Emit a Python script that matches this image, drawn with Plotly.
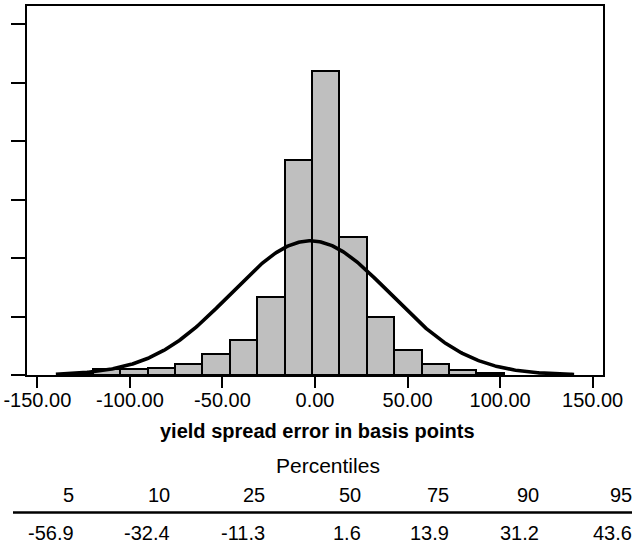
import numpy as np
import plotly.graph_objects as go

# ---------------- data ----------------
bin_centers = [-127.4, -112.6, -97.8, -83.0, -68.2, -53.4, -38.6, -23.8,
               -9.0, 5.8, 20.6, 35.4, 50.2, 65.0, 79.8, 94.6]
bin_width = 14.8
bin_counts = [2, 5, 5, 6, 9, 18, 30, 67, 184, 260, 118, 50, 21, 9, 4, 2]

curve_mean = -2.5
curve_sd = 43.0
curve_peak = 114.7          # height of the fitted normal curve at its mean
curve_from, curve_to = -140.0, 140.0

x_tickvals = [-150, -100, -50, 0, 50, 100, 150]
x_ticktext = ["-150.00", "-100.00", "-50.00", "0.00", "50.00", "100.00", "150.00"]
y_tickvals = [0, 50, 100, 150, 200, 250, 300]

percentile_levels = ["5", "10", "25", "50", "75", "90", "95"]
percentile_values = ["-56.9", "-32.4", "-11.3", "1.6", "13.9", "31.2", "43.6"]

x_title = "yield spread error in basis points"
table_title = "Percentiles"

# ---------------- geometry (pixels) ----------------
W, H = 632, 546
L, R, T, B = 27, 29, 6, 171
PW, PH = W - L - R, H - T - B
def px_x(p):  # page pixel -> paper x
    return (p - L) / PW
def px_y(p):  # page pixel -> paper y
    return (H - B - p) / PH

FONT = "Liberation Sans, Arial, Helvetica, sans-serif"

# fitted normal curve
cx = np.linspace(curve_from, curve_to, 400)
cy = curve_peak * np.exp(-0.5 * ((cx - curve_mean) / curve_sd) ** 2)

fig = go.Figure()
fig.add_trace(go.Bar(
    x=bin_centers, y=bin_counts, width=bin_width,
    marker=dict(color="#bfbfbf", line=dict(color="black", width=2)),
    showlegend=False, hoverinfo="skip",
))
fig.add_trace(go.Scatter(
    x=cx, y=cy, mode="lines", line=dict(color="black", width=3.6),
    showlegend=False, hoverinfo="skip",
))

col_right_px = [76, 172.3, 266.7, 362.7, 451.3, 541.3, 634]
annotations = []
for xr, lev, val in zip(col_right_px, percentile_levels, percentile_values):
    annotations.append(dict(x=px_x(xr), y=px_y(495), xref="paper", yref="paper",
                            text=lev, showarrow=False, xanchor="right", yanchor="middle",
                            font=dict(family=FONT, size=20, color="black")))
    annotations.append(dict(x=px_x(xr), y=px_y(532.7), xref="paper", yref="paper",
                            text=val, showarrow=False, xanchor="right", yanchor="middle",
                            font=dict(family=FONT, size=20, color="black")))
annotations.append(dict(x=px_x(328.2), y=px_y(465.8), xref="paper", yref="paper",
                        text=table_title, showarrow=False, xanchor="center", yanchor="middle",
                        font=dict(family=FONT, size=21, color="black")))
annotations.append(dict(x=px_x(317.3), y=px_y(431), xref="paper", yref="paper",
                        text="<b>" + x_title + "</b>", showarrow=False,
                        xanchor="center", yanchor="middle",
                        font=dict(family=FONT, size=20, color="black")))

shapes = [
    # bottom axis line extending left to the y tick ends
    dict(type="line", xref="paper", yref="paper", x0=px_x(13), x1=0, y0=0, y1=0,
         line=dict(color="black", width=2)),
    # table rule
    dict(type="line", xref="paper", yref="paper", x0=px_x(13), x1=px_x(640),
         y0=px_y(512.5), y1=px_y(512.5), line=dict(color="black", width=2.5)),
]

fig.update_layout(
    width=W, height=H,
    margin=dict(l=L, r=R, t=T, b=B, autoexpand=False),
    paper_bgcolor="white", plot_bgcolor="white",
    bargap=0,
    font=dict(family=FONT, color="black"),
    annotations=annotations, shapes=shapes,
    xaxis=dict(range=[-155.6, 155.6], tickvals=x_tickvals, ticktext=x_ticktext,
               ticks="outside", ticklen=11, tickwidth=2, tickcolor="black",
               ticklabelstandoff=-5,
               showline=True, linewidth=2, linecolor="black", mirror=True,
               showgrid=False, zeroline=False,
               tickfont=dict(family=FONT, size=20, color="black")),
    yaxis=dict(range=[0, 315.4], tickvals=y_tickvals, showticklabels=False,
               ticks="outside", ticklen=14, tickwidth=2, tickcolor="black",
               showline=True, linewidth=2, linecolor="black", mirror=True,
               showgrid=False, zeroline=False),
)

fig.write_html("out.html")
